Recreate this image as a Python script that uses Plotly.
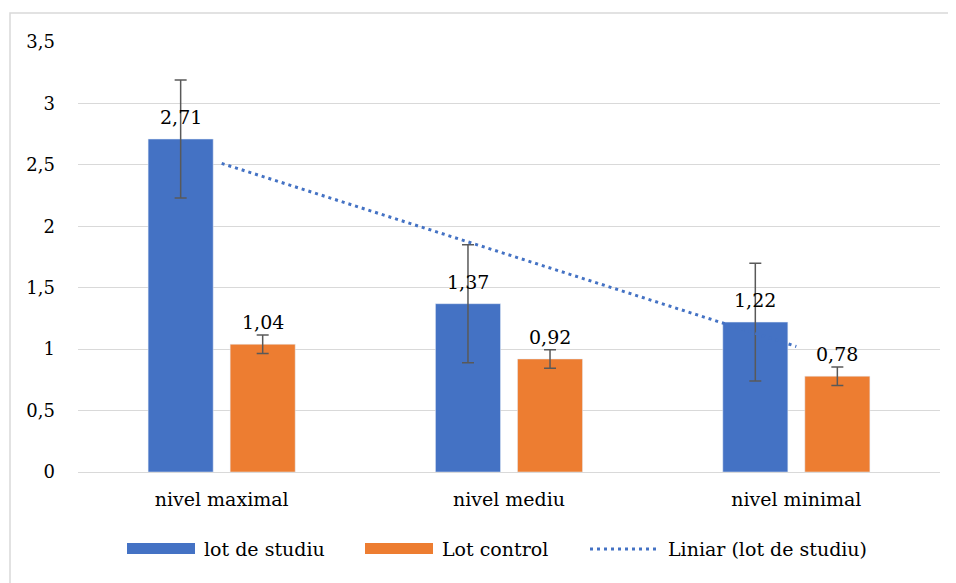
import numpy as np
import plotly.graph_objects as go

categories = ["nivel maximal", "nivel mediu", "nivel minimal"]
studiu_values = [2.71, 1.37, 1.22]
studiu_err = [0.48, 0.48, 0.48]
control_values = [1.04, 0.92, 0.78]
control_err = [0.075, 0.075, 0.075]
y_tickvals = [0, 0.5, 1, 1.5, 2, 2.5, 3, 3.5]
y_ticktext = ["0", "0,5", "1", "1,5", "2", "2,5", "3", "3,5"]
series_names = ["lot de studiu", "Lot control", "Liniar (lot de studiu)"]

BLUE = "#4472C4"
ORANGE = "#ED7D31"
GRID = "#D9D9D9"
ERR = "#595959"
FONT = "DejaVu Serif"

# page has an 8px body margin: figure drawn from (8, 8)
OFF = 8
W, H = 956 - OFF, 583 - OFF
ML, MR, MT, MB = 78 - OFF, 16, 42 - OFF, 111
PW, PH = W - ML - MR, H - MT - MB


def px(x):
    return (x - OFF - ML) / PW


def py(y):
    return (H - MB - (y - OFF)) / PH


# linear trendline computed from the study-group values
idx = np.arange(1, len(studiu_values) + 1)
slope, intercept = np.polyfit(idx, studiu_values, 1)
trend = slope * idx + intercept

fig = go.Figure()
fig.add_trace(go.Scatter(
    x=categories, y=trend, mode="lines",
    line=dict(color=BLUE, width=3, dash="3px,4px"),
    name=series_names[2], hoverinfo="skip"))
fig.add_trace(go.Bar(
    x=categories, y=studiu_values, name=series_names[0], marker_color=BLUE,
    error_y=dict(type="data", array=studiu_err, color=ERR, thickness=1.5, width=6)))
fig.add_trace(go.Bar(
    x=categories, y=control_values, name=series_names[1], marker_color=ORANGE,
    error_y=dict(type="data", array=control_err, color=ERR, thickness=1.5, width=6)))

annotations = []
for i, c in enumerate(categories):
    for vals, off in ((studiu_values, -0.25), (control_values, 0.25)):
        v = vals[i]
        annotations.append(dict(
            x=i + off * 0.571, y=v, xref="x", yref="y",
            text=f"{v:.2f}".replace(".", ","), showarrow=False,
            yanchor="bottom", yshift=9, font=dict(family=FONT, size=19, color="black")))

# manual legend
ly = 549
shapes = [
    dict(type="rect", xref="paper", yref="paper", x0=px(127), x1=px(195), y0=py(554), y1=py(543),
         fillcolor=BLUE, line=dict(width=0)),
    dict(type="rect", xref="paper", yref="paper", x0=px(365), x1=px(433), y0=py(554), y1=py(543),
         fillcolor=ORANGE, line=dict(width=0)),
    dict(type="line", xref="paper", yref="paper", x0=px(590), x1=px(657), y0=py(ly), y1=py(ly),
         line=dict(color=BLUE, width=3, dash="3px,4px")),
    dict(type="rect", xref="paper", yref="paper", x0=px(10), x1=px(1000), y0=py(700), y1=py(13),
         line=dict(color=GRID, width=1.5), fillcolor="rgba(0,0,0,0)", layer="below"),
]
for name, x0 in zip(series_names, [202, 440, 666]):
    annotations.append(dict(
        x=px(x0), y=py(ly), xref="paper", yref="paper", xanchor="left", yanchor="middle",
        text=name, showarrow=False, font=dict(family=FONT, size=19, color="black")))

fig.update_layout(
    width=W, height=H,
    margin=dict(l=ML, r=MR, t=MT, b=MB),
    paper_bgcolor="white", plot_bgcolor="white",
    barmode="group", bargap=0.429, bargroupgap=0.207,
    showlegend=False,
    font=dict(family=FONT, size=19, color="black"),
    annotations=annotations, shapes=shapes,
)
fig.update_xaxes(showgrid=False, showline=False, zeroline=False, ticks="",
                 tickfont=dict(family=FONT, size=19, color="black"),
                 ticklabelstandoff=14)
fig.update_yaxes(range=[0, 3.5], tickvals=y_tickvals, ticktext=y_ticktext,
                 showgrid=True, gridcolor=GRID, gridwidth=1.3,
                 zeroline=True, zerolinecolor=GRID, zerolinewidth=1.3,
                 showline=False, ticks="", ticklabelstandoff=22,
                 tickfont=dict(family=FONT, size=18, color="black"))

fig.write_html("out.html")
